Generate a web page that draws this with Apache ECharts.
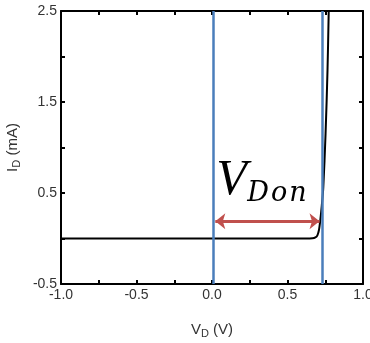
<!DOCTYPE html>
<html>
<head>
<meta charset="utf-8">
<script src="https://cdn.jsdelivr.net/npm/echarts@6/dist/echarts.min.js"></script>
<style>
  html, body { margin: 0; padding: 0; background: #fff; }
  #main { width: 370px; height: 343px; }
</style>
</head>
<body>
<div id="main"></div>
<script>
// diode I-V curve
let curveV = [-1.0, -0.5, 0.0, 0.5, 0.62, 0.665, 0.685, 0.698, 0.708, 0.717, 0.727, 0.737, 0.752, 0.765, 0.773];
let curveI = [0, 0, 0, 0, 0, 0.002, 0.012, 0.035, 0.09, 0.2, 0.36, 0.56, 1.15, 1.85, 2.5];

// vertical markers and the arrow between them
let markerV = [0.015, 0.727];
let arrowFrom = [0.022, 0.19];
let arrowTo = [0.712, 0.19];

let xTicks = [-1.0, -0.5, 0.0, 0.5, 1.0];
let yTicks = [-0.5, 0.5, 1.5, 2.5];

let txt = '#333';
let font = 'Liberation Sans';
let blue = '#4a7ebb';
let red = '#c0504d';

let chart = echarts.init(document.getElementById('main'));

let isIn = function (arr, v) {
    return arr.some(function (t) { return Math.abs(t - v) < 1e-6; });
};

let baseAxis = {
    axisLine: { onZero: false, lineStyle: { color: '#000', width: 2 } },
    axisTick: { inside: true, length: 4, lineStyle: { color: '#000', width: 2 } },
    splitLine: { show: false }
};

let sub = {
    a: { fontSize: 15, fontFamily: font, color: txt },
    b: { fontSize: 11, fontFamily: font, color: txt, padding: [7, 0, 0, 0] }
};

let data = curveV.map(function (v, i) { return [v, curveI[i]]; });

chart.setOption({
    animation: false,
    grid: { left: 61, right: 7, top: 11, bottom: 59, outerBoundsMode: 'none', containLabel: false },
    xAxis: [Object.assign({}, baseAxis, {
        type: 'value', min: -1, max: 1, interval: 0.25,
        name: '{a|V}{b|D}{a| (V)}', nameLocation: 'middle', nameGap: 37,
        nameTextStyle: { rich: sub },
        axisLabel: {
            color: txt, fontFamily: font, fontSize: 14, margin: 4,
            formatter: function (v) { return isIn(xTicks, v) ? v.toFixed(1) : ''; }
        }
    }), Object.assign({}, baseAxis, {
        type: 'value', min: -1, max: 1, interval: 0.25, position: 'top',
        axisLabel: { show: false }
    })],
    yAxis: [Object.assign({}, baseAxis, {
        type: 'value', min: -0.5, max: 2.5, interval: 0.5,
        name: '{a|I}{b|D}{a| (mA)}', nameLocation: 'middle', nameGap: 38, nameRotate: 90,
        nameTextStyle: { rich: sub },
        axisLabel: {
            color: txt, fontFamily: font, fontSize: 14, margin: 4,
            formatter: function (v) { return isIn(yTicks, v) ? String(v) : ''; }
        }
    }), Object.assign({}, baseAxis, {
        type: 'value', min: -0.5, max: 2.5, interval: 0.5, position: 'right',
        axisLabel: { show: false }
    })],
    series: [{
        type: 'line',
        data: data,
        showSymbol: false,
        smooth: 0.3,
        clip: true,
        lineStyle: { color: '#000', width: 2 },
        markLine: {
            silent: true,
            symbol: 'none',
            label: { show: false },
            data: markerV.map(function (v) {
                return { xAxis: v, lineStyle: { color: blue, width: 2.5, type: 'solid' } };
            }).concat([[
                { coord: arrowFrom, symbol: 'arrow', symbolSize: [12, 10] },
                { coord: arrowTo, symbol: 'arrow', symbolSize: [12, 10],
                  lineStyle: { color: red, width: 3, type: 'solid' } }
            ]])
        }
    }]
});

// V_Don label placed from the arrow's data position
let p0 = chart.convertToPixel({ xAxisIndex: 0, yAxisIndex: 0 }, arrowFrom);
chart.setOption({
    graphic: [{
        type: 'text',
        left: p0[0] + 1, top: p0[1] - 65,
        style: { text: 'V', font: 'italic 50px "Liberation Serif"', fill: '#000' }
    }, {
        type: 'text',
        left: p0[0] + 32, top: p0[1] - 41,
        style: {
            text: '{s|D}{s|o}{s|n}',
            rich: { s: { font: 'italic 27px "DejaVu Serif"', fill: '#000', padding: [0, 2, 0, 0] } }
        }
    }]
});
</script>
</body>
</html>
